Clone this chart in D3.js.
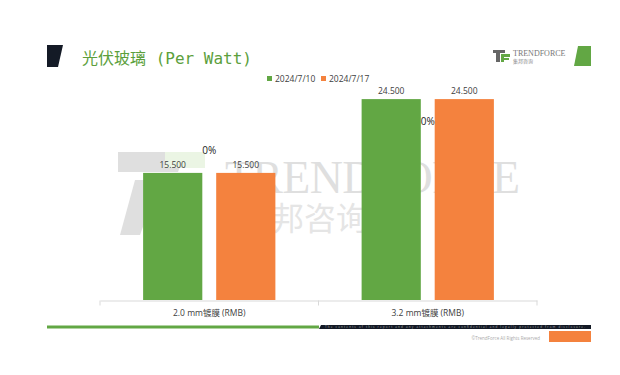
<!DOCTYPE html>
<html>
<head>
<meta charset="utf-8">
<script src="https://cdn.jsdelivr.net/npm/d3@7"></script>
<style>
  body { margin: 0; background: #fff; }
  svg { display: block; font-family: "Open Sans", "Noto Sans CJK SC", sans-serif; }
</style>
</head>
<body>
<svg id="chart" width="620" height="375"></svg>
<script>
const categories = ["2.0 mm镀膜 (RMB)", "3.2 mm镀膜 (RMB)"];
const seriesNames = ["2024/7/10", "2024/7/17"];
const values0710 = [15.5, 24.5];
const values0717 = [15.5, 24.5];
const changes = ["0%", "0%"];

const colors = ["#62a744", "#f4823e"];

const svg = d3.select("#chart");

// page decoration
svg.append("path").attr("d", "M47,45 L63,45 L58,67 L47,67 Z").attr("fill", "#141a26");
svg.append("path").attr("d", "M578,46 L591,46 L591,66 L574,66 Z").attr("fill", "#62a744");
svg.append("text")
    .attr("x", 82).attr("y", 64)
    .attr("fill", "#5c9f3c")
    .style("font-family", "'DejaVu Sans Mono', 'Noto Sans CJK SC', monospace")
    .style("font-size", "16px")
    .text("光伏玻璃 (Per Watt)");

// top-right logo
const logo = svg.append("g").attr("transform", "translate(493,48)");
logo.append("path").attr("d", "M0,2 L12,2 L12,5 L7,5 L7,14 L3,14 L3,5 L0,5 Z").attr("fill", "#666");
logo.append("path").attr("d", "M8,6 L17,6 L17,9 L11,9 L11,10 L16,10 L16,12 L11,12 L11,14 L8,14 Z").attr("fill", "#62a744");
logo.append("text").attr("x", 20).attr("y", 8).attr("fill", "#777")
    .style("font-family", "'Liberation Serif', serif").style("font-size", "8px").text("TRENDFORCE");
logo.append("text").attr("x", 20).attr("y", 15).attr("fill", "#888")
    .style("font-size", "5px").text("集邦咨询");

// watermark
const wm = svg.append("g").attr("opacity", 0.3);
wm.append("path").attr("d", "M118,152 L185,152 L178,172 L118,172 Z").attr("fill", "#999");
wm.append("path").attr("d", "M135,180 L160,180 L140,235 L120,235 Z").attr("fill", "#999");
wm.append("path").attr("d", "M165,152 L205,152 L205,168 L165,168 Z").attr("fill", "#bfe0a8");
wm.append("text").attr("x", 225).attr("y", 193).attr("fill", "#999")
    .style("font-family", "'Liberation Serif', serif").style("font-size", "46px")
    .attr("textLength", 295).text("TRENDFORCE");
wm.append("text").attr("x", 272).attr("y", 230).attr("fill", "#aaa")
    .style("font-size", "32px").text("邦咨询");

// chart
const x0 = d3.scaleBand().domain(categories).range([100, 537]).paddingInner(0).paddingOuter(0);
const x1 = d3.scaleBand().domain(seriesNames).range([0, x0.bandwidth()]).paddingInner(0.19).paddingOuter(0.59);
const y = d3.scaleLinear().domain([0, 27]).range([300, 300 - 27 * 8.2]);

const data = categories.map((c, i) => ({
  cat: c,
  vals: [values0710[i], values0717[i]],
  change: changes[i]
}));

const g = svg.append("g");

const groups = g.selectAll(".grp").data(data).enter().append("g")
    .attr("transform", d => `translate(${x0(d.cat)},0)`);

groups.selectAll("rect").data(d => d.vals.map((v, j) => ({ v, s: seriesNames[j], j })))
    .enter().append("rect")
    .attr("x", d => x1(d.s))
    .attr("width", x1.bandwidth())
    .attr("y", d => y(d.v))
    .attr("height", d => y(0) - y(d.v))
    .attr("fill", d => colors[d.j]);

groups.selectAll(".lbl").data(d => d.vals.map((v, j) => ({ v, s: seriesNames[j] })))
    .enter().append("text")
    .attr("x", d => x1(d.s) + x1.bandwidth() / 2)
    .attr("y", d => y(d.v) - 5)
    .attr("text-anchor", "middle")
    .attr("fill", "#404040")
    .style("font-size", "8.5px")
    .text(d => d3.format(".3f")(d.v));

groups.append("text")
    .attr("x", x0.bandwidth() / 2)
    .attr("y", d => y(Math.max(...d.vals)) + (d.vals[0] > 20 ? 26 : -19))
    .attr("text-anchor", "middle")
    .attr("fill", "#222")
    .style("font-size", "10px")
    .text(d => d.change);

// x axis
const xAxis = g.append("g").attr("transform", "translate(0,300.5)")
    .call(d3.axisBottom(x0).tickSize(0).tickPadding(9));
xAxis.select(".domain").attr("stroke", "#d9d9d9");
xAxis.selectAll("text").attr("fill", "#404040").style("font-size", "8.5px")
    .style("font-family", "'Open Sans', 'Noto Sans CJK SC', sans-serif");
xAxis.selectAll(".tk").data([100, 318.5, 537]).enter().append("line")
    .attr("x1", d => d).attr("x2", d => d).attr("y1", 0).attr("y2", 5)
    .attr("stroke", "#d9d9d9");

// legend
const legend = svg.append("g").attr("transform", "translate(267,81)");
const lx = [0, 54];
seriesNames.forEach((s, i) => {
  legend.append("rect").attr("x", lx[i]).attr("y", -5).attr("width", 5).attr("height", 5).attr("fill", colors[i]);
  legend.append("text").attr("x", lx[i] + 8).attr("y", 0.5).attr("fill", "#404040")
      .style("font-size", "8.5px").text(s);
});

// footer
svg.append("rect").attr("x", 47).attr("y", 325.5).attr("width", 272).attr("height", 3).attr("fill", "#62a744");
svg.append("path").attr("d", "M321,325 L591,325 L591,329 L319,329 Z").attr("fill", "#141a26");
svg.append("text").attr("x", 325).attr("y", 328.3).attr("fill", "#aaa")
    .style("font-size", "3px").attr("textLength", 260)
    .text("The contents of this report and any attachments are confidential and legally protected from disclosure.");
svg.append("text").attr("x", 540).attr("y", 340).attr("text-anchor", "end").attr("fill", "#aaa")
    .style("font-size", "4.5px").text("©TrendForce All Rights Reserved");
svg.append("rect").attr("x", 549).attr("y", 331).attr("width", 42).attr("height", 11).attr("fill", "#f4823e");
</script>
</body>
</html>
